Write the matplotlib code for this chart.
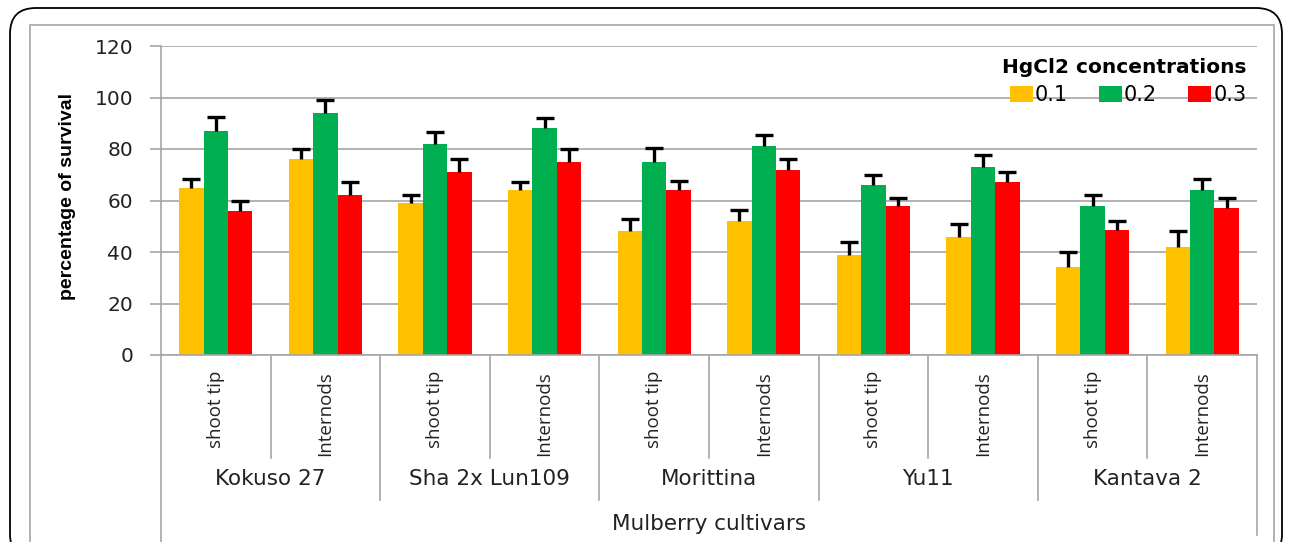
import matplotlib
matplotlib.use("Agg")
import matplotlib.pyplot as plt
import matplotlib.patches as mpatches
from matplotlib.transforms import blended_transform_factory
import numpy as np

cultivars = ["Kokuso 27", "Sha 2x Lun109", "Morittina", "Yu11", "Kantava 2"]
explants = ["shoot tip", "Internods"]
concentrations = ["0.1", "0.2", "0.3"]

# survival (%) per cultivar/explant, one list per HgCl2 concentration
surv_01 = [65, 76, 59, 64, 48, 52, 39, 46, 34, 42]
surv_02 = [87, 94, 82, 88, 75, 81, 66, 73, 58, 64]
surv_03 = [56, 62, 71, 75, 64, 72, 58, 67, 48.5, 57]
err_01 = [3.5, 4, 3, 3, 5, 4.5, 5, 5, 6, 6]
err_02 = [5.5, 5, 4.5, 4, 5.5, 4.5, 4, 4.5, 4, 4.5]
err_03 = [4, 5, 5, 5, 3.5, 4, 3, 4, 3.5, 4]

colors = ["#FFC000", "#00B050", "#FF0000"]
grid_col = "#A6A6A6"
text_col = "#222222"

W, H = 1292, 542
fig = plt.figure(figsize=(W / 100, H / 100), dpi=100)

def fy(py):
    return (H - py) / H

# outer rounded frame and inner chart frame (both run off the bottom edge)
fig.patches.append(mpatches.FancyBboxPatch(
    (10 / W, fy(560)), 1272 / W, 552 / H,
    boxstyle="round,pad=0,rounding_size=0.02", transform=fig.transFigure,
    fill=False, edgecolor="black", linewidth=1.3, mutation_aspect=W / H))
fig.patches.append(mpatches.Rectangle(
    (30 / W, fy(560)), 1244 / W, 535 / H, transform=fig.transFigure,
    fill=False, edgecolor=grid_col, linewidth=1.2))

ax = fig.add_axes([161 / W, fy(355), (1257 - 161) / W, (355 - 46) / H])

n = len(surv_01)
x = np.arange(n)
width = 1 / 4.5
series = [(surv_01, err_01), (surv_02, err_02), (surv_03, err_03)]
for i, (vals, errs) in enumerate(series):
    pos = x + (i - 1) * width
    ax.bar(pos, vals, width=width, color=colors[i], label=concentrations[i], zorder=2)
    _, caps, _ = ax.errorbar(pos, vals, yerr=[np.zeros(n), errs], fmt="none",
                             ecolor="black", elinewidth=2.4, capsize=6.5,
                             capthick=2.4, zorder=3)
    caps[0].set_visible(False)  # only the upper cap

ax.set_xlim(-0.5, n - 0.5)
ax.set_ylim(0, 120)
ax.set_yticks(range(0, 121, 20))
ax.yaxis.grid(True, color=grid_col, linewidth=1.2, zorder=0)
ax.set_axisbelow(True)
for s in ["top", "right", "bottom"]:
    ax.spines[s].set_visible(False)
ax.spines["left"].set_color(grid_col)
ax.spines["left"].set_linewidth(1.2)
ax.set_xticks([])
ax.tick_params(axis="y", colors=grid_col, length=8, width=1.2, pad=12)
for t in ax.get_yticklabels():
    t.set_color(text_col)
    t.set_fontsize(14.5)
    t.set_family("DejaVu Sans")

fig.text(68 / W, fy(196), "percentage of survival", rotation=90, ha="center",
         va="center", fontsize=14, fontweight="bold",
         family=["Liberation Sans", "DejaVu Sans"])

# two-level category axis drawn below the plot
tr = blended_transform_factory(ax.transData, fig.transFigure)
line_kw = dict(color=grid_col, linewidth=1.2, transform=tr, clip_on=False)
ax.plot([-0.5, n - 0.5], [fy(355), fy(355)], **line_kw)
ax.plot([-0.5, -0.5], [fy(355), fy(545)], **line_kw)
ax.plot([n - 0.5, n - 0.5], [fy(355), fy(535)], **line_kw)
for k in range(1, n):
    bottom = 500 if k % 2 == 0 else 458
    ax.plot([k - 0.5, k - 0.5], [fy(355), fy(bottom)], **line_kw)

label_font = ["DejaVu Sans"]
for k in range(n):
    ax.text(k, fy(371), explants[k % 2], rotation=90, ha="center", va="top",
            fontsize=13.5, color=text_col, family=["Open Sans", "DejaVu Sans"],
            transform=tr)
for g, name in enumerate(cultivars):
    ax.text(2 * g + 0.5, fy(479), name, ha="center", va="center", fontsize=15.5,
            color=text_col, family=label_font, transform=tr)
ax.text((n - 1) / 2, fy(524), "Mulberry cultivars", ha="center", va="center",
        fontsize=15.5, color=text_col, family=label_font, transform=tr)

leg = ax.legend(title="HgCl2 concentrations", loc="upper right", ncol=3,
                bbox_to_anchor=(1.0, 0.995), frameon=False, handlelength=1.1,
                handleheight=0.8, handletextpad=0.1, columnspacing=1.5,
                borderaxespad=0.1, prop={"family": "DejaVu Sans", "size": 15})
leg.get_title().set_fontweight("bold")
leg.get_title().set_fontsize(14.5)
leg.get_title().set_family(["DejaVu Sans"])
leg._legend_box.align = "right"
leg._legend_box.sep = 6

fig.savefig("out.png", dpi=100)
